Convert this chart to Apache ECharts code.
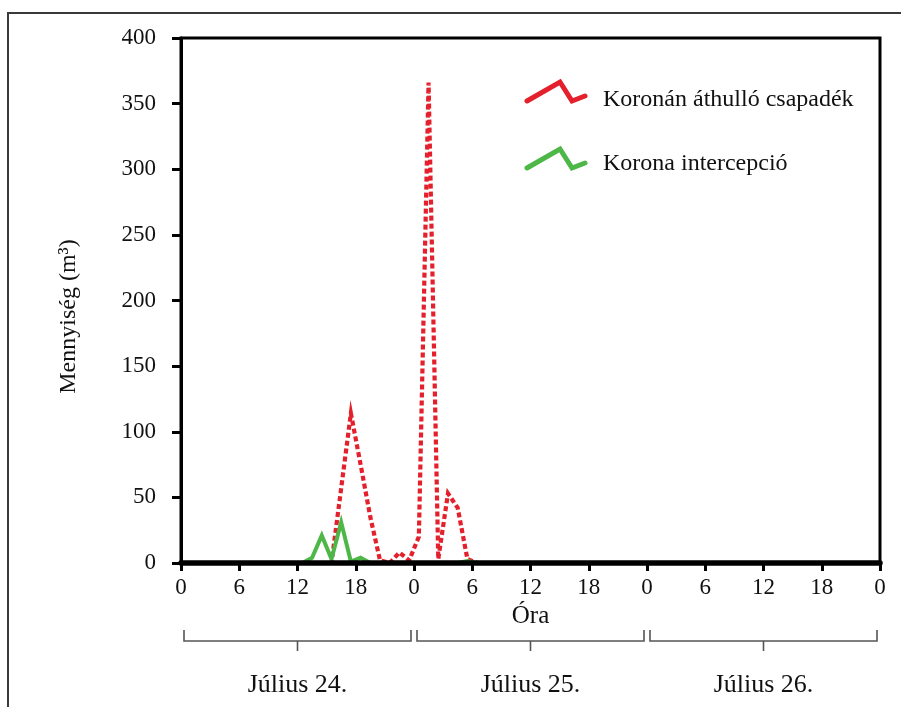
<!DOCTYPE html>
<html>
<head>
<meta charset="utf-8">
<script src="https://cdn.jsdelivr.net/npm/echarts@6/dist/echarts.min.js"></script>
<style>
html, body { margin: 0; padding: 0; background: #ffffff; }
#chart { width: 901px; height: 707px; }
</style>
</head>
<body>
<div id="chart"></div>
<script>
// Hour midpoints over three days (0–72 h), one value per hour.
const hourMid = [
  0.5, 1.5, 2.5, 3.5, 4.5, 5.5, 6.5, 7.5, 8.5, 9.5, 10.5, 11.5,
  12.5, 13.5, 14.5, 15.5, 16.5, 17.5, 18.5, 19.5, 20.5, 21.5, 22.5, 23.5,
  24.5, 25.5, 26.5, 27.5, 28.5, 29.5, 30.5, 31.5, 32.5, 33.5, 34.5, 35.5,
  36.5, 37.5, 38.5, 39.5, 40.5, 41.5, 42.5, 43.5, 44.5, 45.5, 46.5, 47.5,
  48.5, 49.5, 50.5, 51.5, 52.5, 53.5, 54.5, 55.5, 56.5, 57.5, 58.5, 59.5,
  60.5, 61.5, 62.5, 63.5, 64.5, 65.5, 66.5, 67.5, 68.5, 69.5, 70.5, 71.5
];

// Koronán áthulló csapadék (m³)
const throughfall = [
  0, 0, 0, 0, 0, 0, 0, 0, 0, 0, 0, 0,
  0, 0, 0, 0, 57, 114, 75, 35, 2, 0, 8, 2,
  20, 366, 3, 53, 42, 3, 0, 0, 0, 0, 0, 0,
  0, 0, 0, 0, 0, 0, 0, 0, 0, 0, 0, 0,
  0, 0, 0, 0, 0, 0, 0, 0, 0, 0, 0, 0,
  0, 0, 0, 0, 0, 0, 0, 0, 0, 0, 0, 0
];

// Korona intercepció (m³)
const interception = [
  0, 0, 0, 0, 0, 0, 0, 0, 0, 0, 0, 0,
  0, 4, 21, 3, 31, 1, 4, 0, 0, 0, 0, 0,
  0, 0, 0, 0, 0, 1.5, 0, 0, 0, 0, 0, 0,
  0, 0, 0, 0, 0, 0, 0, 0, 0, 0, 0, 0,
  0, 0, 0, 0, 0, 0, 0, 0, 0, 0, 0, 0,
  0, 0, 0, 0, 0, 0, 0, 0, 0, 0, 0, 0
];

const seriesNames = ['Koronán áthulló csapadék', 'Korona intercepció'];
const dayLabels = ['Július 24.', 'Július 25.', 'Július 26.'];
const dayStarts = [0, 24, 48];

const RED = '#e3202b';
const GREEN = '#4db748';
const FONT = '"Liberation Serif", "Times New Roman", serif';

function pairs(xs, ys) {
  return xs.map((x, i) => [x, ys[i]]);
}

const chart = echarts.init(document.getElementById('chart'), null, { renderer: 'canvas' });

const option = {
  backgroundColor: '#ffffff',
  animation: false,
  grid: {
    left: 181, right: 21, top: 38, bottom: 144,
    show: true, borderColor: '#000', borderWidth: 3, backgroundColor: 'transparent'
  },
  xAxis: {
    type: 'value',
    min: 0, max: 72, interval: 6,
    z: 5,
    name: 'Óra',
    nameLocation: 'middle',
    nameGap: 41,
    nameTextStyle: { fontFamily: FONT, fontSize: 25, color: '#111' },
    axisLine: { show: true, onZero: false, lineStyle: { color: '#000', width: 5.5 } },
    axisTick: { show: true, inside: false, length: 8, lineStyle: { color: '#000', width: 3 } },
    splitLine: { show: false },
    axisLabel: {
      margin: 13, fontFamily: FONT, fontSize: 23, color: '#111',
      formatter: v => String(v % 24)
    }
  },
  yAxis: {
    type: 'value',
    min: 0, max: 400, interval: 50,
    z: 5,
    name: 'Mennyiség (m³)',
    nameLocation: 'middle',
    nameRotate: 90,
    nameGap: 100,
    nameTextStyle: { fontFamily: FONT, fontSize: 24, color: '#111', padding: [0, 32, 0, 0] },
    axisLine: { show: true, lineStyle: { color: '#000', width: 3 } },
    axisTick: { show: true, inside: false, length: 9, lineStyle: { color: '#000', width: 3 } },
    splitLine: { show: false },
    axisLabel: { margin: 25, fontFamily: FONT, fontSize: 23, color: '#111' }
  },
  series: [
    {
      name: seriesNames[0],
      type: 'line',
      data: pairs(hourMid, throughfall),
      showSymbol: false,
      smooth: false,
      lineStyle: { color: RED, width: 4.2, type: [5, 3], cap: 'butt', join: 'miter' },
      z: 2
    },
    {
      name: seriesNames[1],
      type: 'line',
      data: pairs(hourMid, interception),
      showSymbol: false,
      smooth: false,
      lineStyle: { color: GREEN, width: 4, join: 'miter' },
      z: 3
    }
  ]
};

chart.setOption(option);

// Outer frame, legend and day brackets under the hour axis.
const graphics = [];

graphics.push({
  type: 'rect', silent: true, z: 0,
  shape: { x: 8, y: 13, width: 1000, height: 1000 },
  style: { fill: 'none', stroke: '#3a3a3a', lineWidth: 2 }
});

const legendRows = [
  { name: seriesNames[0], color: RED, y: 82, textY: 100 },
  { name: seriesNames[1], color: GREEN, y: 149, textY: 164 }
];
legendRows.forEach(row => {
  graphics.push({
    type: 'polyline', silent: true, z: 10,
    shape: { points: [[527, row.y + 19], [560, row.y], [572, row.y + 19], [585, row.y + 14]] },
    style: { fill: 'none', stroke: row.color, lineWidth: 5, lineCap: 'round', lineJoin: 'miter' }
  });
  graphics.push({
    type: 'text', silent: true, z: 10,
    style: {
      x: 603, y: row.textY, text: row.name,
      font: '24px ' + FONT, fill: '#111',
      textAlign: 'left', textVerticalAlign: 'middle'
    }
  });
});

const bracketY = 641;
dayStarts.forEach((start, i) => {
  const x0 = chart.convertToPixel({ xAxisIndex: 0 }, start) + 3;
  const x1 = chart.convertToPixel({ xAxisIndex: 0 }, start + 24) - 3;
  const xm = chart.convertToPixel({ xAxisIndex: 0 }, start + 12);
  graphics.push({
    type: 'polyline', silent: true,
    shape: { points: [[x0, bracketY - 11], [x0, bracketY], [x1, bracketY], [x1, bracketY - 11]] },
    style: { fill: 'none', stroke: '#555', lineWidth: 1.6 }
  });
  graphics.push({
    type: 'line', silent: true,
    shape: { x1: xm, y1: bracketY, x2: xm, y2: bracketY + 10 },
    style: { stroke: '#555', lineWidth: 1.6 }
  });
  graphics.push({
    type: 'text', silent: true,
    style: {
      x: xm, y: 685, text: dayLabels[i],
      font: '26px ' + FONT, fill: '#111',
      textAlign: 'center', textVerticalAlign: 'middle'
    }
  });
});

chart.setOption({ graphic: graphics });
</script>
</body>
</html>
